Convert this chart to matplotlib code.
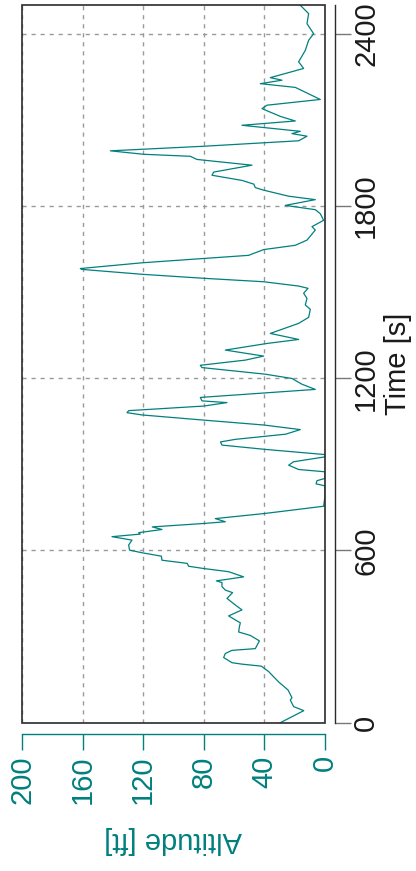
import matplotlib
matplotlib.use("Agg")
import matplotlib.pyplot as plt
from matplotlib.patches import Rectangle

plt.rcParams['font.family'] = ['Liberation Sans', 'DejaVu Sans']

# flight log: time [s] and altitude [ft]
time_s = [0, 42, 56, 79, 87, 114, 142, 178, 197, 204, 209, 227, 241, 252, 258, 285,
          304, 316, 334, 348, 358, 372, 393, 410, 433, 453, 462, 474, 488, 494, 508,
          526, 537, 545, 555, 566, 580, 592, 601, 619, 636, 648, 657, 662, 673, 682,
          694, 700, 711, 729, 754, 790, 825, 832, 843, 851, 874, 882, 897, 909, 917,
          926, 934, 952, 967, 978, 987, 1005, 1021, 1037, 1054, 1072, 1080, 1087,
          1103, 1115, 1121, 1133, 1149, 1161, 1179, 1199, 1214, 1237, 1245, 1263,
          1277, 1298, 1321, 1335, 1356, 1391, 1412, 1440, 1455, 1478, 1496, 1513,
          1521, 1536, 1548, 1562, 1579, 1582, 1602, 1617, 1628, 1648, 1663, 1681,
          1716, 1728, 1750, 1773, 1787, 1802, 1822, 1834, 1855, 1864, 1876, 1889,
          1907, 1918, 1942, 1962, 1973, 1980, 1992, 2008, 2020, 2027, 2043, 2052,
          2060, 2081, 2096, 2112, 2139, 2151, 2171, 2213, 2226, 2238, 2247, 2279,
          2302, 2342, 2377, 2400, 2435, 2470, 2499]
altitude_ft = [29.5, 14, 20.7, 22.9, 21.8, 24.4, 30.6, 37.2, 42, 54.8, 61.4, 66.9,
               65.8, 61.4, 46, 43.3, 49.3, 57, 56.5, 55.9, 59.2, 63.6, 54.8, 59.2,
               64.7, 61, 65.8, 68, 68, 71.7, 53.7, 63.6, 80, 90, 91, 107.6, 108,
               120.8, 129, 129.6, 127.4, 140.6, 121.9, 123, 107.6, 114, 80, 65.8,
               72.4, 39.4, 0.9, 0, 0, 5.9, 5.3, 0, 0, 17.4, 24, 20.7, 10.8, 0, 0,
               39.4, 68, 69, 59.2, 26, 16.3, 40.5, 80, 120.8, 130.7, 129.6, 80,
               64.7, 81.2, 82.3, 39.4, 6.4, 15.2, 21.8, 39.4, 81.2, 82.3, 52.6,
               40.5, 65.8, 38.3, 17.4, 36.1, 17.4, 10.8, 9.7, 13, 11.9, 14.1, 11.2,
               17.4, 40.5, 80, 120.8, 160.4, 161.5, 120.8, 80, 50.4, 40.5, 19.6,
               11.9, 6.4, 8.6, 0.9, 3.1, 6.4, 26.2, 6.4, 24, 40.5, 46, 47, 54.8,
               74.6, 73.5, 48.2, 84.5, 88.9, 119.7, 141.7, 80, 40.5, 17.4, 11.9,
               21.8, 16.3, 54.8, 19.6, 29.5, 41.6, 38.3, 3.1, 19.6, 42.7, 28.4,
               36.1, 14.1, 17.4, 13, 10.8, 7.5, 11.9, 10.8, 16.3]

alt_ticks = [0, 40, 80, 120, 160, 200]
time_ticks = [0, 600, 1200, 1800, 2400]

teal = '#00807e'
dark = '#2b2b2b'

fig = plt.figure(figsize=(4.16, 8.71), dpi=100)
W, H = 416, 871
ax = fig.add_axes([22 / W, 1 - 722.7 / H, 303 / W, 717.7 / H])

ax.plot(altitude_ft, time_s, color=teal, lw=0.9)
ax.set_xlim(200, 0)
ax.set_ylim(0, 2500)

ax.set_xticks(alt_ticks)
ax.set_yticks(time_ticks)
ax.grid(True, color='#9a9a9a', lw=1.0, linestyle=(0, (3, 3.5)))

# offset axis lines, inner frame drawn separately
ax.spines['top'].set_visible(False)
ax.spines['left'].set_visible(False)
ax.spines['bottom'].set_position(('outward', 8))
ax.spines['bottom'].set_color(teal)
ax.spines['bottom'].set_linewidth(1.0)
ax.spines['right'].set_position(('outward', 7))
ax.spines['right'].set_color(dark)
ax.spines['right'].set_linewidth(1.0)
ax.add_patch(Rectangle((0, 0), 1, 1, transform=ax.transAxes, fill=False,
                       edgecolor=dark, lw=1.2, clip_on=False, zorder=5))

ax.yaxis.tick_right()
ax.yaxis.set_label_position('right')
ax.tick_params(axis='x', direction='out', length=11.5, width=1.0, color=teal,
               labelcolor=teal, labelsize=21, labelrotation=90, pad=4)
ax.tick_params(axis='y', direction='out', length=11.5, width=1.0, color='#777777',
               labelcolor='#1a1a1a', labelsize=21, labelrotation=90, pad=1)
for lab in ax.get_yticklabels():
    lab.set_va('center')

ax.set_xlabel('Altitude [ft]', color=teal, fontsize=21, rotation=180, labelpad=16)
ax.set_ylabel('Time [s]', color='#1a1a1a', fontsize=21, rotation=90, labelpad=3)

fig.savefig('out.png', dpi=100)
